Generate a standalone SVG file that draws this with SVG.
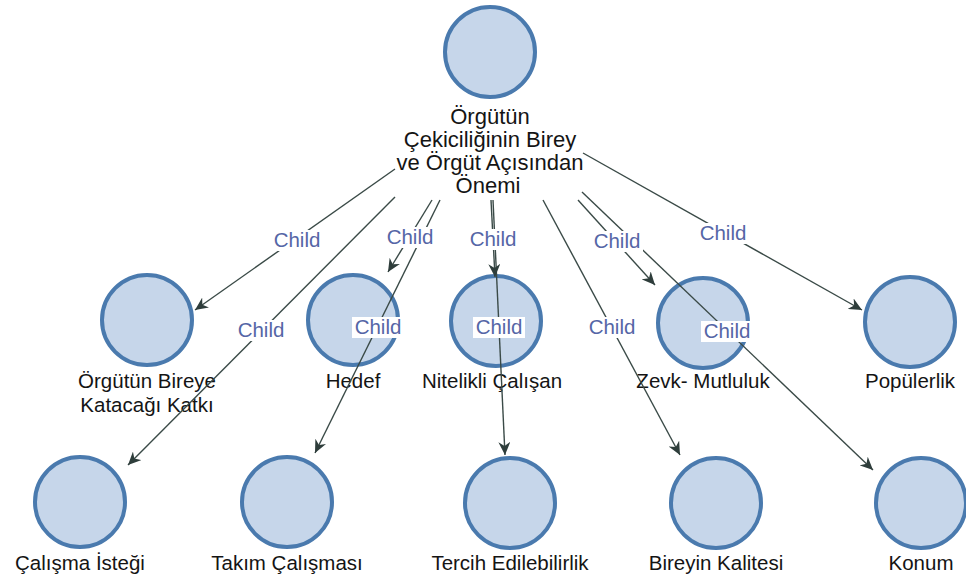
<svg xmlns="http://www.w3.org/2000/svg" width="966" height="580" viewBox="0 0 966 580">
<defs>
<style>
.n{fill:#c6d6ea;stroke:#4a7aae;stroke-width:4}
.t{font-family:"Liberation Sans",Arial,sans-serif;font-size:20.5px;fill:#141414;text-anchor:middle}
.r{font-size:22px}
.e{stroke:#3a4a47;stroke-width:1.4;fill:none;marker-end:url(#ah)}
.lb{fill:#ffffff}
.lt{font-family:"Liberation Sans",Arial,sans-serif;font-size:20.5px;fill:#5566a6;text-anchor:middle}
</style>
<marker id="ah" markerUnits="userSpaceOnUse" markerWidth="14" markerHeight="12" refX="13" refY="6" orient="auto" viewBox="0 0 14 12">
<path d="M0,0 L13,6 L0,12 L4,6 z" fill="#2e3d3b"/>
</marker>
</defs>
<rect width="966" height="580" fill="#ffffff"/>
<g id="nodes">
<g id="root"><circle class="n" cx="490" cy="52" r="45"/>
<text class="t r" x="490" y="124">Örgütün</text>
<text class="t r" x="490" y="147">Çekiciliğinin Birey</text>
<text class="t r" x="490" y="170">ve Örgüt Açısından</text>
<text class="t r" x="488" y="193">Önemi</text></g>
<g id="n-katki"><circle class="n" cx="147" cy="320" r="45"/>
<text class="t" x="147" y="388">Örgütün Bireye</text>
<text class="t" x="147" y="412">Katacağı Katkı</text></g>
<g id="n-hedef"><circle class="n" cx="353" cy="320" r="45"/>
<text class="t" x="353" y="388">Hedef</text></g>
<g id="n-nitelikli"><circle class="n" cx="496" cy="321" r="45"/>
<text class="t" x="492" y="388">Nitelikli Çalışan</text></g>
<g id="n-zevk"><circle class="n" cx="703" cy="323" r="45"/>
<text class="t" x="703" y="388">Zevk- Mutluluk</text></g>
<g id="n-populerlik"><circle class="n" cx="910" cy="322" r="45"/>
<text class="t" x="910" y="388">Popülerlik</text></g>
<g id="n-calisma"><circle class="n" cx="80" cy="502" r="45"/>
<text class="t" x="80" y="570">Çalışma İsteği</text></g>
<g id="n-takim"><circle class="n" cx="287" cy="502" r="45"/>
<text class="t" x="287" y="570">Takım Çalışması</text></g>
<g id="n-tercih"><circle class="n" cx="510" cy="503" r="45"/>
<text class="t" x="510" y="570">Tercih Edilebilirlik</text></g>
<g id="n-bireyin"><circle class="n" cx="716" cy="503" r="45"/>
<text class="t" x="716" y="570">Bireyin Kalitesi</text></g>
<g id="n-konum"><circle class="n" cx="921" cy="503" r="45"/>
<text class="t" x="921" y="570">Konum</text></g>
</g>
<g id="connectors">
<line class="e" x1="395" y1="169" x2="195" y2="310"/>
<line class="e" x1="395" y1="197" x2="128" y2="465"/>
<line class="e" x1="432" y1="200" x2="388" y2="272"/>
<line class="e" x1="440" y1="200" x2="315" y2="453"/>
<line class="e" x1="493" y1="200" x2="505" y2="455"/>
<line class="e" x1="491" y1="200" x2="495" y2="277"/>
<line class="e" x1="543" y1="200" x2="680" y2="455"/>
<line class="e" x1="578" y1="200" x2="655" y2="285"/>
<line class="e" x1="582" y1="192" x2="873" y2="470"/>
<line class="e" x1="583" y1="153" x2="862" y2="310"/>
<g id="labels">
<rect class="lb" x="271" y="230" width="52" height="21"/><text class="lt" x="297" y="247">Child</text>
<rect class="lb" x="235" y="320" width="52" height="21"/><text class="lt" x="261" y="337">Child</text>
<rect class="lb" x="384" y="227" width="52" height="21"/><text class="lt" x="410" y="244">Child</text>
<rect class="lb" x="352" y="317" width="52" height="21"/><text class="lt" x="378" y="334">Child</text>
<rect class="lb" x="473" y="317" width="52" height="21"/><text class="lt" x="499" y="334">Child</text>
<rect class="lb" x="467" y="229" width="52" height="21"/><text class="lt" x="493" y="246">Child</text>
<rect class="lb" x="586" y="317" width="52" height="21"/><text class="lt" x="612" y="334">Child</text>
<rect class="lb" x="591" y="231" width="52" height="21"/><text class="lt" x="617" y="248">Child</text>
<rect class="lb" x="701" y="321" width="52" height="21"/><text class="lt" x="727" y="338">Child</text>
<rect class="lb" x="697" y="223" width="52" height="21"/><text class="lt" x="723" y="240">Child</text>
</g>
</g>
</svg>
